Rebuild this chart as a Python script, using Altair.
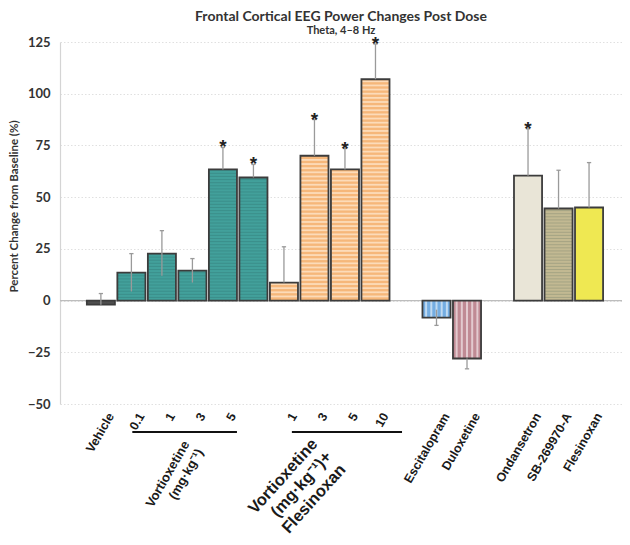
import altair as alt
import pandas as pd

title_text = "Frontal Cortical EEG Power Changes Post Dose"
subtitle_text = "Theta, 4–8 Hz"
y_title = "Percent Change from Baseline (%)"

treatments = ["Vehicle", "Vortioxetine 0.1", "Vortioxetine 1", "Vortioxetine 3",
              "Vortioxetine 5", "Vortioxetine 10", "Vort+Fles 1", "Vort+Fles 3",
              "Vort+Fles 5", "Vort+Fles 10", "Escitalopram", "Duloxetine",
              "Ondansetron", "SB-269970-A", "Flesinoxan"]
series = ["Vehicle"] + ["Vortioxetine"] * 5 + ["Vortioxetine+Flesinoxan"] * 4 + \
         ["Escitalopram", "Duloxetine", "Ondansetron", "SB-269970-A", "Flesinoxan"]
slots = [0, 1, 2, 3, 4, 5, 6, 7, 8, 9, 11, 12, 14, 15, 16]
values = [-2, 13.5, 22.7, 14.5, 63.4, 59.5, 8.7, 70, 63.4, 107, -8.2, -28, 60.4, 44.5, 45]
err_outer = [3.4, 22.7, 33.8, 20.3, 74, 65.8, 26, 87.5, 73.5, 124, -12, -33, 83, 63, 66.7]
err_inner = [-2, 4.4, 12, 8.7, 63.4, 59.5, 8.7, 70, 63.4, 107, -4.4, -28, 60.4, 44.5, 45]
significant = [False, False, False, False, True, True, False, True, True, True,
               False, False, True, False, False]

series_names = ["Vehicle", "Vortioxetine", "Vortioxetine+Flesinoxan", "Escitalopram",
                "Duloxetine", "Ondansetron", "SB-269970-A", "Flesinoxan"]
series_colors = ["#4f4f4f", "#42a09b", "#f6b77a", "#74ade2", "#c08a94",
                 "#e9e5d7", "#c2b992", "#efe852"]

tick_slots = [0, 1, 2, 3, 4, 6, 7, 8, 9, 11, 12, 14, 15, 16]
tick_labels = ["Vehicle", "0.1", "1", "3", "5", "1", "3", "5", "10",
               "Escitalopram", "Duloxetine", "Ondansetron", "SB-269970-A", "Flesinoxan"]

group_labels = ["Vortioxetine\n(mg·kg⁻¹)", "Vortioxetine\n(mg·kg⁻¹)+\nFlesinoxan"]
group_line_from = [1.03, 6.26]
group_line_to = [4.46, 9.87]

df = pd.DataFrame({
    "treatment": treatments, "series": series, "slot": slots, "value": values,
    "err_outer": err_outer, "err_inner": err_inner, "sig": significant,
})
ticks_df = pd.DataFrame({"slot": tick_slots, "label": tick_labels})
groups_df = pd.DataFrame({"idx": [0, 1], "label": group_labels,
                          "from": group_line_from, "to": group_line_to})

W, H = 562, 362
xscale = alt.Scale(domain=[-1.34, 17.08], nice=False, zero=False)
yscale = alt.Scale(domain=[-50, 125], nice=False)

base = alt.Chart(df)

bars_fill = base.transform_calculate(
    x0="datum.slot - 0.46", x1="datum.slot + 0.46", zero="0"
).mark_bar(strokeWidth=0).encode(
    x=alt.X("x0:Q", scale=xscale, axis=None),
    x2="x1:Q",
    y=alt.Y("value:Q", scale=yscale,
            axis=alt.Axis(values=[-50, -25, 0, 25, 50, 75, 100, 125], title=y_title,
                          labelFont="Lato", labelFontSize=13, labelFontWeight="bold",
                          labelColor="#333333", labelPadding=10, ticks=False,
                          domainColor="#d4d4d4", domainWidth=1.2,
                          grid=True, gridColor="#e0e0e0", gridDash=[1.5, 2],
                          titleFont="Lato", titleFontSize=11.5, titleFontWeight="bold",
                          titleColor="#333333", titleX=-41, titleY=164,
                          titleBaseline="bottom", titleAngle=270)),
    y2="zero:Q",
    fill=alt.Fill("series:N", scale=alt.Scale(domain=series_names, range=series_colors),
                  legend=None),
)

# horizontal light stripes (Vortioxetine + Flesinoxan bars)
h_stripes = base.transform_filter(
    "datum.series == 'Vortioxetine+Flesinoxan'"
).transform_calculate(
    seq="sequence(1, datum.value / 2)"
).transform_flatten(["seq"]).transform_calculate(
    ys="datum.seq * 2", sx0="datum.slot - 0.44", sx1="datum.slot + 0.44"
).mark_rule(color="#fde2c4", strokeWidth=1.8, opacity=0.85).encode(
    x=alt.X("sx0:Q", scale=xscale), x2="sx1:Q", y=alt.Y("ys:Q", scale=yscale)
)

# vertical light stripes (Escitalopram, Duloxetine)
v_stripes = base.transform_filter(
    "datum.series == 'Escitalopram' || datum.series == 'Duloxetine'"
).transform_calculate(
    seq="sequence(-2, 3)"
).transform_flatten(["seq"]).transform_calculate(
    xs="datum.slot + datum.seq * 0.17", zero="0"
).mark_rule(strokeWidth=2, opacity=0.55, color="#ffffff").encode(
    x=alt.X("xs:Q", scale=xscale), y=alt.Y("value:Q", scale=yscale), y2="zero:Q"
)

# fine hatch texture for Vortioxetine and SB-269970-A bars
t_stripes = base.transform_filter(
    "datum.series == 'Vortioxetine' || datum.series == 'SB-269970-A'"
).transform_calculate(
    seq="sequence(1, datum.value / 1.5)"
).transform_flatten(["seq"]).transform_calculate(
    ys="datum.seq * 1.5", sx0="datum.slot - 0.44", sx1="datum.slot + 0.44"
).mark_rule(color="#1f3f3d", strokeWidth=0.8, opacity=0.22).encode(
    x=alt.X("sx0:Q", scale=xscale), x2="sx1:Q", y=alt.Y("ys:Q", scale=yscale)
)

bars_outline = base.transform_calculate(
    x0="datum.slot - 0.46", x1="datum.slot + 0.46", zero="0"
).mark_bar(fillOpacity=0, strokeWidth=1.8, strokeOpacity=1, stroke="#3c3c3c").encode(
    x=alt.X("x0:Q", scale=xscale), x2="x1:Q",
    y=alt.Y("value:Q", scale=yscale), y2="zero:Q",
    stroke=alt.value("#3c3c3c"),
)

zero_line = base.transform_filter("datum.slot == 0").transform_calculate(zero="0").mark_rule(
    color="#bdbdbd", strokeWidth=1.2
).encode(x=alt.value(0), x2=alt.value(W), y=alt.Y("zero:Q", scale=yscale))

err = base.mark_rule(color="#9a9a9a", strokeWidth=1.3).encode(
    x=alt.X("slot:Q", scale=xscale), y=alt.Y("err_inner:Q", scale=yscale), y2="err_outer:Q"
)
caps = base.transform_calculate(
    c0="datum.slot - 0.07", c1="datum.slot + 0.07"
).mark_rule(color="#9a9a9a", strokeWidth=1.3).encode(
    x=alt.X("c0:Q", scale=xscale), x2="c1:Q", y=alt.Y("err_outer:Q", scale=yscale)
)
stars = base.transform_filter("datum.sig").mark_text(
    text="*", font="Liberation Sans", fontSize=19, fontWeight="bold",
    color="#222222", baseline="middle", dy=0
).encode(x=alt.X("slot:Q", scale=xscale), y=alt.Y("err_outer:Q", scale=yscale))

tick_text = alt.Chart(ticks_df).transform_calculate(
    xl="datum.slot + 0.33"
).mark_text(
    angle=300, align="right", baseline="middle", font="Liberation Sans",
    fontSize=12.5, fontWeight="bold", color="#1a1a1a"
).encode(x=alt.X("xl:Q", scale=xscale), y=alt.value(372), text="label:N")

underline = alt.Chart(groups_df).mark_rule(color="#111111", strokeWidth=2).encode(
    x=alt.X("from:Q", scale=xscale), x2="to:Q", y=alt.value(390)
)

g1 = alt.Chart(groups_df).transform_filter("datum.idx == 0").transform_calculate(
    xg="datum.from + 1.6"
).mark_text(
    angle=300, align="right", baseline="top", font="Liberation Sans", fontSize=13,
    fontWeight="bold", color="#1a1a1a", lineBreak="\n", lineHeight=16
).encode(x=alt.X("xg:Q", scale=xscale), y=alt.value(397), text="label:N")

g2 = alt.Chart(groups_df).transform_filter("datum.idx == 1").transform_calculate(
    xg="datum.from + 0.55"
).mark_text(
    angle=312, align="right", baseline="top", font="Liberation Sans", fontSize=16.5,
    fontWeight="bold", color="#1a1a1a", lineBreak="\n", lineHeight=19
).encode(x=alt.X("xg:Q", scale=xscale), y=alt.value(394), text="label:N")

chart = alt.layer(zero_line, bars_fill, h_stripes, v_stripes, t_stripes, bars_outline,
                  err, caps, stars, tick_text, underline, g1, g2).properties(
    width=W, height=H,
    title=alt.TitleParams(title_text, subtitle=subtitle_text, font="Lato", fontSize=14,
                          fontWeight="bold", color="#333333", subtitleFont="Lato",
                          subtitleFontSize=11, subtitleFontWeight="bold",
                          subtitleColor="#333333", anchor="middle", offset=-1,
                          subtitlePadding=1),
    autosize=alt.AutoSizeParams(type="none"),
    padding={"left": 52, "top": 34, "right": 0, "bottom": 133},
).configure_view(stroke=None)

chart.save("out.html", embed_options={"renderer": "svg", "actions": False})
